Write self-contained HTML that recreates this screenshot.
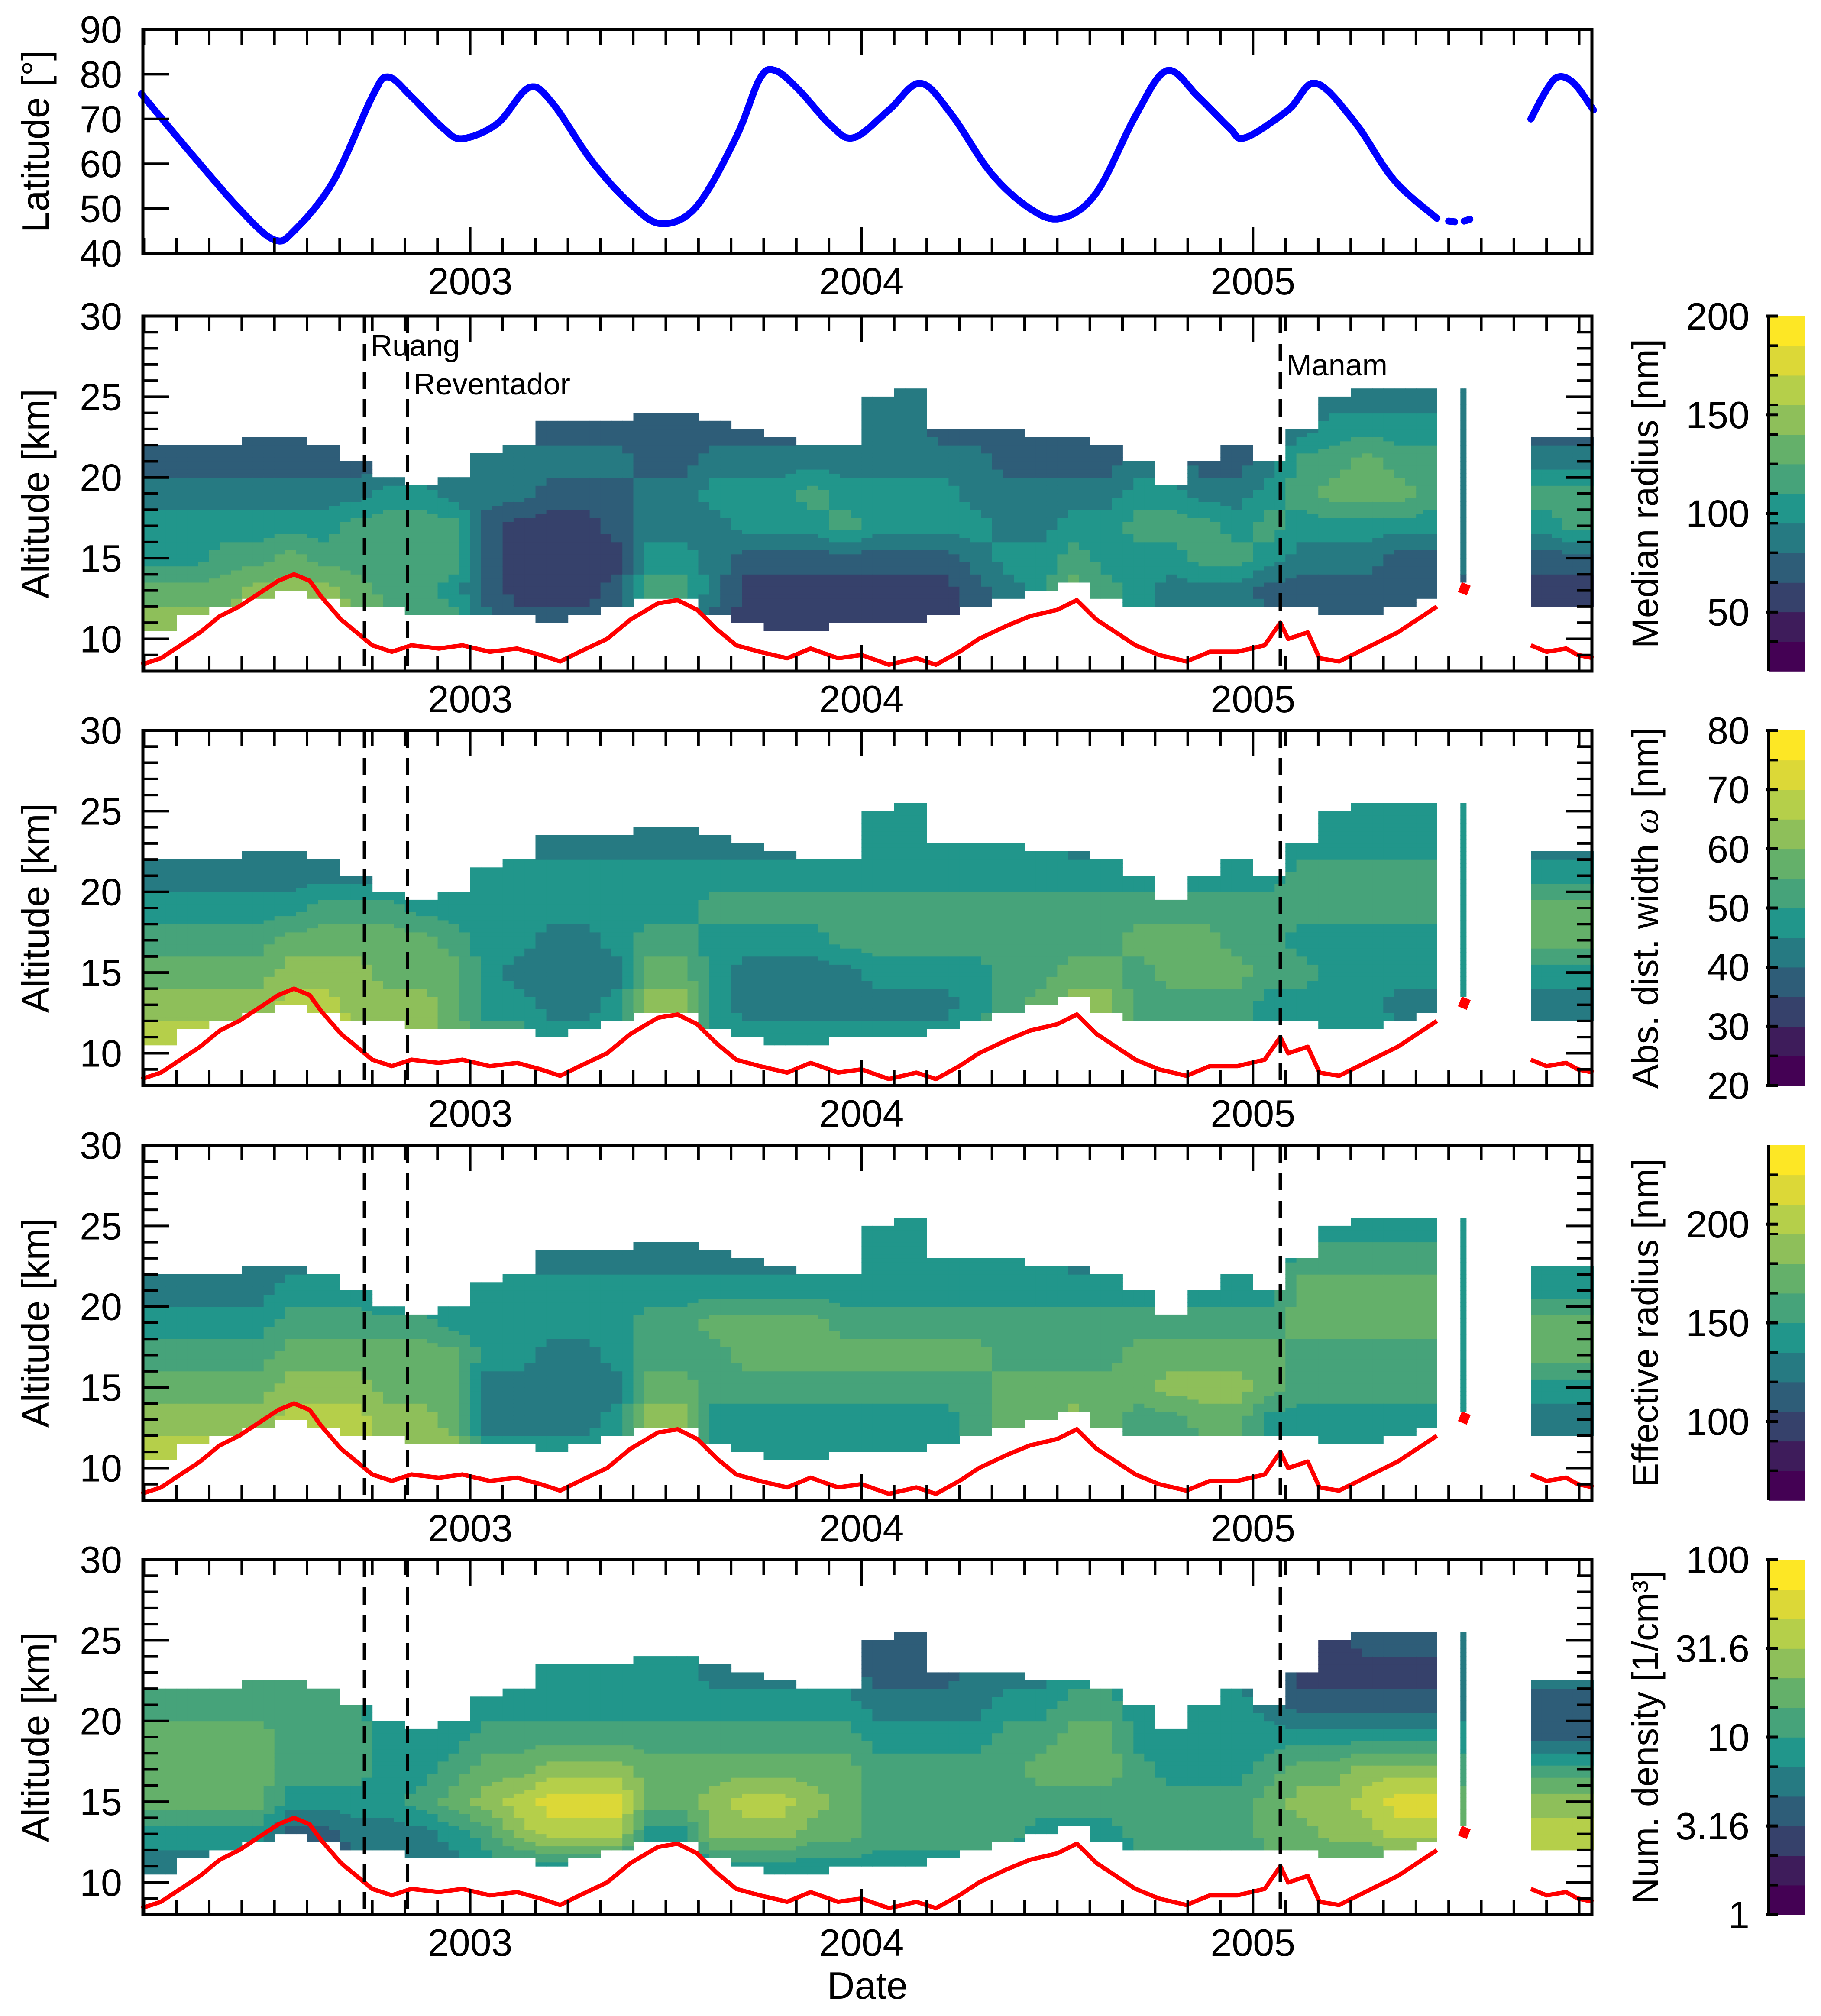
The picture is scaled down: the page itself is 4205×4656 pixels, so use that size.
<!DOCTYPE html>
<html><head><meta charset="utf-8">
<style>
html,body{margin:0;padding:0;background:#fff;}
svg{display:block;font-family:"Liberation Sans",Arial,sans-serif;}
</style></head>
<body>
<svg id="fig" xmlns="http://www.w3.org/2000/svg" width="4205" height="4656" viewBox="0 0 4205 4656">
<rect x="0" y="0" width="4205" height="4656" fill="#fff"/>
<g id="layer"></g>
</svg>
<script>
// ---------- data ----------
const latDates = [2002.16,2002.29,2002.42,2002.50,2002.55,2002.65,2002.75,2002.79,2002.85,2002.93,2002.98,2003.07,2003.15,2003.21,2003.31,2003.41,2003.49,2003.58,2003.68,2003.74,2003.78,2003.84,2003.92,2003.98,2004.07,2004.15,2004.23,2004.33,2004.43,2004.51,2004.60,2004.70,2004.78,2004.86,2004.94,2004.98,2005.09,2005.16,2005.26,2005.36,2005.47];
const latValues = [75.6,62,49,43,45,56,75,79.4,75,68,65.6,69,77,73.6,60.7,51,46.6,50.6,66,79,80.8,76.5,68.7,65.8,72,78,71,58,50,47.8,53.5,70.7,80.8,75,68,65.8,72,78,69.3,56.4,47.8];
const latDates2 = [2005.50,2005.53,2005.56];
const latValues2 = [47.2,47,47.8];
const latDates3 = [2005.71,2005.75,2005.78,2005.82,2005.87];
const latValues3 = [70,76.5,79.4,78,72];

const tropDates = [2002.16,2002.21,2002.26,2002.31,2002.36,2002.41,2002.46,2002.51,2002.55,2002.59,2002.62,2002.67,2002.71,2002.75,2002.80,2002.85,2002.92,2002.98,2003.05,2003.12,2003.18,2003.23,2003.28,2003.35,2003.41,2003.48,2003.53,2003.58,2003.63,2003.68,2003.74,2003.81,2003.87,2003.94,2004.00,2004.07,2004.14,2004.19,2004.25,2004.30,2004.37,2004.43,2004.50,2004.55,2004.60,2004.65,2004.70,2004.76,2004.83,2004.89,2004.96,2005.03,2005.07,2005.09,2005.14,2005.17,2005.22,2005.27,2005.32,2005.37,2005.42,2005.47];
const tropValues = [8.4,8.8,9.6,10.4,11.4,12,12.8,13.6,14,13.6,12.6,11.2,10.4,9.6,9.2,9.6,9.4,9.6,9.2,9.4,9,8.6,9.2,10,11.2,12.2,12.4,11.8,10.6,9.6,9.2,8.8,9.4,8.8,9,8.4,8.8,8.4,9.2,10,10.8,11.4,11.8,12.4,11.2,10.4,9.6,9,8.6,9.2,9.2,9.6,11,10,10.4,8.8,8.6,9.2,9.8,10.4,11.2,12];
const tropDates2 = [2005.535,2005.545];
const tropValues2 = [12.8,13.4];
const tropDates3 = [2005.71,2005.75,2005.80,2005.83,2005.87];
const tropValues3 = [9.6,9.2,9.4,9,8.8];

const eventNames = ["Ruang","Reventador","Manam"];
const eventDates = [2002.73,2002.84,2005.07];

const colStart = [2002.167,2002.25,2002.333,2002.417,2002.5,2002.583,2002.667,2002.75,2002.833,2002.917,2003.0,2003.083,2003.167,2003.25,2003.333,2003.417,2003.5,2003.583,2003.667,2003.75,2003.833,2003.917,2004.0,2004.083,2004.167,2004.25,2004.333,2004.417,2004.5,2004.583,2004.667,2004.75,2004.833,2004.917,2005.0,2005.083,2005.167,2005.25,2005.333,2005.417,2005.53,2005.71,2005.79];
const colEnd = [2002.25,2002.333,2002.417,2002.5,2002.583,2002.667,2002.75,2002.833,2002.917,2003.0,2003.083,2003.167,2003.25,2003.333,2003.417,2003.5,2003.583,2003.667,2003.75,2003.833,2003.917,2004.0,2004.083,2004.167,2004.25,2004.333,2004.417,2004.5,2004.583,2004.667,2004.75,2004.833,2004.917,2005.0,2005.083,2005.167,2005.25,2005.333,2005.417,2005.47,2005.545,2005.79,2005.87];
const colTop = [22,22,22,22.5,22.5,22,21,20,19.5,20,21.5,22,23.5,23.5,23.5,24,24,23.5,23,22.5,22,22,25,25.5,23,23,23,22.5,22.5,22,21,19.5,21,22,21,23,25,25.5,25.5,25.5,25.5,22.5,22.5];
const colBottom = [10.5,11.5,12,12.5,13,12.5,12,12,11.5,11.5,11.5,11.5,11,11.5,12,12.5,12.5,11.5,11,10.5,10.5,11,11,11,11.5,12,12.5,13,13.5,12.5,12,12,12,12,12,12,11.5,11.5,12,12.5,13.5,12,12];
const levels = [11,13,15,17,19,21,23,25];

// panel A: median radius (band index 0-11)
const medA11 = [8,8,8,8, 9,8,8, 7,6,6, 4,3,3,3,3, 4,5, 3,2,2,2,2, 2,2,2,3,3,4, 6,5, 5,4,4,4, 4,3,3,3,3,3, 4, 2,2];
const medA13 = [7,7,7,8, 8,8,7, 6,6,5, 3,2,2,2,3, 6,6, 4,2,2,2,2, 2,2,2,3,4,5, 7,6, 5,4,4,4, 3,3,3,3,3,3, 3, 2,2];
const medA15 = [5,5,6,6, 7,6,6, 6,6,6, 3,2,2,2,2, 5,5, 4,3,3,3,3, 3,3,3,4,5,5, 6,5, 5,5,6,6, 5,4,4,4,3,3, 4, 3,3];
const medA17 = [5,5,5,5, 5,5,6, 6,6,6, 3,2,2,2,3, 4,4, 4,5,5,5,6, 5,5,5,5,4,4, 5,5, 6,6,6,5, 6,5,5,5,5,5, 4, 5,6];
const medA19 = [4,4,4,4, 4,4,4, 5,5,4, 4,4,3,3,3, 4,4, 5,5,5,6,5, 5,5,5,4,4,4, 4,4, 5,5,4,4, 5,6,7,7,7,6, 4, 6,6];
const medA21 = [3,3,3,3, 3,3,3, 3,3,3, 4,4,4,4,4, 3,3, 4,4,4,4,4, 4,4,4,4,3,3, 3,3, 4,4,3,3, 4,6,6,7,6,6, 4, 4,4];
const medA23 = [3,3,3,3, 3,3,3, 3,3,3, 3,3,3,3,3, 3,3, 3,3,3,3,3, 4,4,3,3,3,3, 3,3, 3,3,3,3, 3,4,5,5,5,5, 4, 3,3];
const medA25 = [3,3,3,3, 3,3,3, 3,3,3, 3,3,3,3,3, 3,3, 3,3,3,3,3, 4,4,3,3,3,3, 3,3, 3,3,3,3, 3,4,4,4,4,4, 4, 3,3];
// panel B: distribution width
const widB11 = [9,9,9,9, 9,9,9, 8,8,7, 6,6,5,5,5, 7,7, 5,5,5,5,5, 5,5,5,6,6,7, 8,8, 7,6,6,6, 5,5,5,5,5,5, 5, 4,4];
const widB13 = [8,8,8,8, 9,9,8, 8,8,7, 5,5,4,4,5, 8,8, 5,4,4,4,4, 4,4,4,5,6,7, 8,8, 6,6,6,6, 5,5,5,5,4,4, 5, 4,4];
const widB15 = [7,7,7,7, 8,8,8, 7,7,7, 5,4,4,4,4, 7,7, 5,4,4,4,4, 5,5,5,5,6,6, 7,7, 6,7,7,7, 6,6,5,5,5,5, 5, 5,5];
const widB17 = [6,6,6,6, 7,7,7, 7,7,6, 5,5,4,4,5, 6,6, 5,5,5,5,6, 6,6,6,6,6,6, 6,6, 7,7,7,6, 6,5,5,5,5,5, 5, 7,7];
const widB19 = [5,5,5,5, 5,6,6, 6,5,5, 5,5,5,5,5, 5,5, 6,6,6,6,6, 6,6,6,6,6,6, 6,6, 6,6,6,6, 6,6,6,6,6,6, 5, 7,7];
const widB21 = [4,4,4,4, 4,4,4, 4,4,4, 5,5,5,5,5, 5,5, 5,5,5,5,5, 5,5,5,5,5,5, 5,5, 5,5,5,5, 5,6,6,6,6,6, 5, 5,5];
const widB23 = [4,4,4,4, 4,4,4, 4,4,4, 4,4,4,4,4, 4,4, 4,4,4,4,4, 5,5,5,5,5,5, 4,4, 4,4,4,4, 4,5,5,5,5,5, 5, 4,4];
const widB25 = [4,4,4,4, 4,4,4, 4,4,4, 4,4,4,4,4, 4,4, 4,4,4,4,4, 5,5,5,5,5,5, 4,4, 4,4,4,4, 4,5,5,5,5,5, 5, 4,4];
// panel C: effective radius
const effC11 = [9,9,9,9, 9,9,9, 8,8,8, 5,5,5,5,5, 6,6, 5,5,5,5,5, 5,5,5,6,6,6, 7,6, 6,6,6,6, 5,5,5,5,5,5, 5, 4,4];
const effC13 = [8,8,8,8, 9,9,9, 8,8,7, 4,4,4,4,5, 8,8, 5,5,5,5,5, 5,5,5,6,7,7, 8,7, 6,6,7,7, 5,5,5,5,5,5, 5, 4,4];
const effC15 = [7,7,7,7, 8,8,8, 7,7,7, 4,4,4,4,4, 7,7, 6,6,6,6,6, 6,6,6,6,7,7, 7,7, 7,8,8,8, 7,6,6,6,6,6, 5, 5,5];
const effC17 = [6,6,6,6, 7,7,7, 7,7,7, 5,5,4,4,5, 6,6, 6,7,7,7,7, 7,7,7,7,6,6, 6,6, 7,7,7,7, 7,6,6,6,6,6, 5, 7,7];
const effC19 = [5,5,5,5, 6,6,6, 6,6,5, 5,5,5,5,5, 6,6, 7,7,7,7,6, 6,6,6,6,6,6, 6,6, 6,6,6,6, 6,7,7,7,7,7, 5, 7,7];
const effC21 = [4,4,4,4, 5,5,5, 4,4,4, 5,5,5,5,5, 5,5, 5,5,5,5,5, 5,5,5,5,5,5, 5,5, 5,5,5,5, 5,7,7,7,7,7, 5, 5,5];
const effC23 = [4,4,4,4, 4,4,4, 4,4,4, 4,4,4,4,4, 4,4, 4,4,4,4,4, 5,5,5,5,5,5, 4,4, 4,4,4,4, 4,6,6,6,6,6, 5, 5,5];
const effC25 = [4,4,4,4, 4,4,4, 4,4,4, 4,4,4,4,4, 4,4, 4,4,4,4,4, 5,5,5,5,5,5, 4,4, 4,4,4,4, 4,5,5,5,5,5, 5, 5,5];
// panel D: number density
const numD11 = [4,4,4,4, 3,3,3, 4,4,4, 5,5,5,5,5, 4,4, 5,5,5,5,5, 5,5,5,5,5,4, 4,4, 5,5,5,5, 6,6,6,6,6,6, 6, 8,8];
const numD13 = [5,5,5,5, 3,3,4, 4,4,5, 6,8,9,9,9, 5,5, 8,8,8,7,7, 6,6,6,6,6,5, 5,5, 6,6,6,6, 7,7,8,8,9,9, 7, 9,9];
const numD15 = [7,7,7,7, 5,5,5, 5,6,7, 8,9,10,10,10, 7,7, 8,9,9,8,7, 6,6,6,6,6,6, 6,6, 6,6,6,6, 7,8,8,9,10,10, 7, 8,8];
const numD17 = [7,7,7,7, 6,6,6, 5,5,6, 7,7,8,8,8, 7,7, 7,7,7,7,7, 6,6,6,6,6,7, 7,7, 6,5,5,5, 6,7,7,8,8,8, 6, 6,6];
const numD19 = [7,7,7,7, 6,6,6, 5,5,5, 6,6,6,6,6, 6,6, 6,6,6,6,6, 5,5,5,5,6,6, 7,7, 5,5,5,5, 5,5,5,5,5,5, 5, 3,3];
const numD21 = [6,6,6,6, 6,6,6, 4,4,4, 5,5,5,5,5, 5,5, 5,5,5,5,5, 4,4,4,4,5,5, 6,6, 5,5,5,5, 4,3,3,3,3,3, 4, 3,3];
const numD23 = [6,6,6,6, 6,6,6, 4,4,4, 5,5,5,5,5, 5,5, 4,4,4,4,4, 3,3,3,4,4,4, 5,5, 4,4,4,4, 4,2,2,2,2,2, 4, 4,4];
const numD25 = [6,6,6,6, 6,6,6, 4,4,4, 4,4,4,4,4, 5,5, 4,4,4,4,4, 3,3,3,3,3,3, 5,5, 4,4,4,4, 3,3,2,3,3,3, 4, 4,4];

const latTicks = [40,50,60,70,80,90];
const altTicks = [10,15,20,25,30];
const yearTicks = [2003,2004,2005];
const cbA = [50,100,150,200];
const cbB = [20,30,40,50,60,70,80];
const cbC = [100,150,200];
const cbD = [1,3.16,10,31.6,100];
const cbDLabels = ["1","3.16","10","31.6","100"];

// ---------- layout ----------
const X0=330, X1=3676, T0=2002.164, T1=2005.866;
const LAT_TOP=68, LAT_BOT=585;
const PTOPS=[730,1687,2645,3602], PH=820, AMIN=8, AMAX=30;
const CBX=4084, CBW=85;
const viridis=["#440154","#3e1c5b","#36416b","#2e5d78","#267a82","#21968b","#46a37a","#64b06a","#8ebf5a","#b5cf4a","#dcd837","#fde725"];
const NS="http://www.w3.org/2000/svg";
const layer=document.getElementById('layer');
function xs(t){return X0+(t-T0)/(T1-T0)*(X1-X0);}
function yLat(v){return LAT_BOT-(v-40)/50*(LAT_BOT-LAT_TOP);}
function yAlt(a,top){return top+PH-(a-AMIN)/(AMAX-AMIN)*PH;}
function mk(tag,attrs,parent){const e=document.createElementNS(NS,tag);for(const k in attrs)e.setAttribute(k,attrs[k]);(parent||layer).appendChild(e);return e;}
function txt(s,x,y,size,anchor,parent,rot){const e=mk('text',{x:x,y:y,'font-size':size,'text-anchor':anchor||'middle',fill:'#000'},parent);if(rot)e.setAttribute('transform','rotate('+rot+' '+x+' '+y+')');e.textContent=s;return e;}
function catmull(xsA,ysA,n){const pts=[];for(let i=0;i<xsA.length-1;i++){const p0=[xsA[Math.max(0,i-1)],ysA[Math.max(0,i-1)]],p1=[xsA[i],ysA[i]],p2=[xsA[i+1],ysA[i+1]],p3=[xsA[Math.min(xsA.length-1,i+2)],ysA[Math.min(xsA.length-1,i+2)]];for(let k=0;k<n;k++){const t=k/n,t2=t*t,t3=t2*t;const f=(a,b,c,d)=>0.5*((2*b)+(-a+c)*t+(2*a-5*b+4*c-d)*t2+(-a+3*b-3*c+d)*t3);pts.push([f(p0[0],p1[0],p2[0],p3[0]),f(p0[1],p1[1],p2[1],p3[1])]);}}pts.push([xsA[xsA.length-1],ysA[ysA.length-1]]);return pts;}

function xTicks(top,bot){
  for(let y=2002;y<=2005;y++){for(let m=0;m<12;m++){const t=y+m/12;if(t<T0||t>T1)continue;const x=xs(t);const L=m===0?60:35;
    const a=mk('line',{x1:x,y1:bot,x2:x,y2:bot-L,stroke:'#000','stroke-width':6});
    
    
    const b=mk('line',{x1:x,y1:top,x2:x,y2:top+L,stroke:'#000','stroke-width':6});
    
    
  }}
  yearTicks.forEach(yr=>{const e=txt(String(yr),xs(yr),bot+95,88,'middle');
    
    });
}

// ---------- latitude panel ----------
(function(){
  const g=mk('g',{});
  
  
  [[latDates,latValues],[latDates2,latValues2],[latDates3,latValues3]].forEach((s,si)=>{
    const pts=catmull(s[0].map(xs),s[1].map(yLat),8);
    const p=mk('path',{d:'M'+pts.map(q=>q[0].toFixed(1)+','+q[1].toFixed(1)).join('L'),fill:'none',stroke:'#0000ff','stroke-width':16,'stroke-linecap':'round','stroke-linejoin':'round','stroke-dasharray':si===1?'14 22':'none'},g);
    
    
  });
  latTicks.forEach(v=>{const y=yLat(v);
    const l=mk('line',{x1:X0,y1:y,x2:X0+60,y2:y,stroke:'#000','stroke-width':6},g);
    
    
    const t=txt(String(v),282,y+31,88,'end',g);
    
    });
  xTicks(LAT_TOP,LAT_BOT);
  const f=mk('rect',{x:X0,y:LAT_TOP,width:X1-X0,height:LAT_BOT-LAT_TOP,fill:'none',stroke:'#000','stroke-width':7},g);
  
  
  const tt=txt('Latitude [°]',112,(LAT_TOP+LAT_BOT)/2,88,'middle',g,-90);
  
  
})();

// ---------- altitude panels ----------
const panelLevels=[
 [medA11,medA13,medA15,medA17,medA19,medA21,medA23,medA25],
 [widB11,widB13,widB15,widB17,widB19,widB21,widB23,widB25],
 [effC11,effC13,effC15,effC17,effC19,effC21,effC23,effC25],
 [numD11,numD13,numD15,numD17,numD19,numD21,numD23,numD25]];
const cbTitles=['Median radius [nm]','Abs. dist. width ω [nm]','Effective radius [nm]','Num. density [1/cm³]'];
const cbDefs=[
 {min:20,max:200,vals:cbA,labels:cbA.map(String),log:false},
 {min:20,max:80,vals:cbB,labels:cbB.map(String),log:false},
 {min:60,max:240,vals:cbC,labels:cbC.map(String),log:false},
 {min:1,max:100,vals:cbD,labels:cbDLabels,log:true}];

function valAt(lv,c,a){
  if(a<=levels[0])return lv[0][c];
  if(a>=levels[levels.length-1])return lv[levels.length-1][c];
  for(let i=0;i<levels.length-1;i++){if(a>=levels[i]&&a<=levels[i+1]){const f=(a-levels[i])/(levels[i+1]-levels[i]);return lv[i][c]*(1-f)+lv[i+1][c]*f;}}
  return lv[0][c];
}
function contiguous(a,b){return a>=0&&b<colStart.length&&Math.abs(colEnd[a]-colStart[b])<0.01;}

const NSUB=3;
PTOPS.forEach((top,pi)=>{
  const g=mk('g',{});
  
  
  const lv=panelLevels[pi];
  const step=0.25;
  for(let c=0;c<colStart.length;c++){
    const w=(colEnd[c]-colStart[c])/NSUB;
    for(let s=0;s<NSUB;s++){
      const f=(s+0.5)/NSUB;
      const x0=xs(colStart[c]+s*w),x1=xs(colStart[c]+(s+1)*w);
      let nb=-1,wt=0;
      if(f<0.5&&contiguous(c-1,c)){nb=c-1;wt=0.5-f;}
      else if(f>0.5&&contiguous(c,c+1)){nb=c+1;wt=f-0.5;}
      for(let a=colBottom[c];a<colTop[c]-1e-6;a+=step){
        const am=a+step/2;
        let val=valAt(lv,c,am);
        if(nb>=0)val=val*(1-wt)+valAt(lv,nb,am)*wt;
        const v=Math.max(0,Math.min(11,Math.round(val)));
        const y1=yAlt(a,top),y2=yAlt(Math.min(a+step,colTop[c]),top);
        const r=mk('rect',{x:x0.toFixed(1),y:(y2-0.5).toFixed(1),width:(x1-x0+0.6).toFixed(1),height:(y1-y2+1).toFixed(1),fill:viridis[v]},g);
        
        
      }
    }
  }
  // tropopause
  [[tropDates,tropValues],[tropDates2,tropValues2],[tropDates3,tropValues3]].forEach(s=>{
    const p=mk('polyline',{points:s[0].map((d,i)=>xs(d).toFixed(1)+','+yAlt(s[1][i],top).toFixed(1)).join(' '),fill:'none',stroke:'#ff0000','stroke-width':(s[0].length===2?22:10),'stroke-linejoin':'round'},g);
    
    
  });
  // volcano lines
  eventDates.forEach((d,ei)=>{
    const l=mk('line',{x1:xs(d),y1:top,x2:xs(d),y2:top+PH,stroke:'#000','stroke-width':8,'stroke-dasharray':'40 24'},g);
    
    
  });
  if(pi===0){
    const ly=[822,911,867];
    eventNames.forEach((n,ei)=>{const t=txt(n,xs(eventDates[ei])+14,ly[ei],70,'start',g);
      
      });
  }
  // y ticks
  for(let a=AMIN;a<=AMAX;a++){const y=yAlt(a,top);const L=(a%5===0)?60:35;
    const l1=mk('line',{x1:X0,y1:y,x2:X0+L,y2:y,stroke:'#000','stroke-width':6},g);
    
    
    const l2=mk('line',{x1:X1,y1:y,x2:X1-L,y2:y,stroke:'#000','stroke-width':6},g);
    
    }
  altTicks.forEach(a=>{const t=txt(String(a),282,yAlt(a,top)+31,88,'end',g);
    
    });
  xTicks(top,top+PH);
  const f=mk('rect',{x:X0,y:top,width:X1-X0,height:PH,fill:'none',stroke:'#000','stroke-width':7},g);
  
  
  const yt=txt('Altitude [km]',112,top+PH/2,88,'middle',g,-90);
  
  
  // colorbar
  const cb=cbDefs[pi];
  const frac=v=>cb.log?(Math.log10(v)-Math.log10(cb.min))/(Math.log10(cb.max)-Math.log10(cb.min)):(v-cb.min)/(cb.max-cb.min);
  for(let k=0;k<12;k++){
    const b=mk('rect',{x:CBX,y:(top+PH-(k+1)*PH/12).toFixed(1),width:CBW,height:(PH/12+0.8).toFixed(1),fill:viridis[k]},g);
    
    
    if(k>0){const mt=mk('line',{x1:CBX,y1:top+PH-k*PH/12,x2:CBX+22,y2:top+PH-k*PH/12,stroke:'#000','stroke-width':6},g);
      
      }
  }
  const ax=mk('line',{x1:CBX,y1:top,x2:CBX,y2:top+PH,stroke:'#000','stroke-width':7},g);
  
  
  cb.vals.forEach((v,i)=>{const y=top+PH-frac(v)*PH;
    const l=mk('line',{x1:CBX-6,y1:y,x2:CBX+22,y2:y,stroke:'#000','stroke-width':7},g);
    
    
    const t=txt(cb.labels[i],4040,y+31,88,'end',g);
    
    });
  const ct=mk('text',{x:3828,y:top+PH/2,'font-size':84,'text-anchor':'middle',fill:'#000',transform:'rotate(-90 3828 '+(top+PH/2)+')'},g);
  
  
  if(pi===1){ct.innerHTML='Abs. dist. width <tspan font-style="italic" font-family="Liberation Serif, serif">ω</tspan> [nm]';}
  else ct.textContent=cbTitles[pi];
});

const dt=txt('Date',(X0+X1)/2,4616,88,'middle');


</script>
</body></html>
